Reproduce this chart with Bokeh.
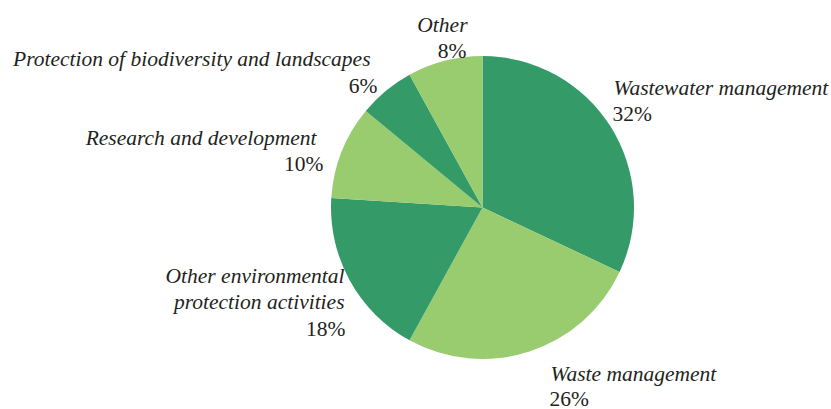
import math
from bokeh.plotting import figure
from bokeh.embed import file_html
from bokeh.resources import INLINE
from bokeh.models import ColumnDataSource
from bokeh.core.properties import value

# ---- data ----
categories = ["Wastewater management", "Waste management",
              "Other environmental protection activities",
              "Research and development",
              "Protection of biodiversity and landscapes", "Other"]
shares = [32, 26, 18, 10, 6, 8]
colors = ["#349b68", "#99cb6f", "#349b68", "#99cb6f", "#349b68", "#99cb6f"]

# label lines (name lines)
label_lines = [["Wastewater management"], ["Waste management"],
               ["Other environmental", "protection activities"],
               ["Research and development"],
               ["Protection of biodiversity and landscapes"], ["Other"]]

# ---- layout (page px from top-left) ----
W, H = 831, 409
CX, CY, R = 482, 207, 151.5
FS = 21.5
LH = 26.5
FONT = value("Liberation Serif")
# name anchor x, first baseline y, alignment ; percent anchor x, baseline y
name_pos = [(613, 87, "left"), (550, 373, "left"), (344, 275, "right"),
            (316, 137, "right"), (370, 58, "right"), (467, 24, "right")]
pct_pos = [(612, 113), (549, 398), (345, 328), (323, 163), (377, 85), (466, 50)]

p = figure(width=W, height=H, x_range=(0, W), y_range=(0, H),
           output_backend="svg", toolbar_location=None,
           min_border=0, min_border_left=0, min_border_right=0,
           min_border_top=0, min_border_bottom=0)
p.axis.visible = False
p.grid.visible = False
p.outline_line_color = None
p.background_fill_color = "white"

total = sum(shares)
starts, ends = [], []
cum = 0
for s in shares:
    a0 = math.pi / 2 - 2 * math.pi * (cum + s) / total
    a1 = math.pi / 2 - 2 * math.pi * cum / total
    starts.append(a0)
    ends.append(a1)
    cum += s

src = ColumnDataSource(dict(x=[CX] * len(shares), y=[H - CY] * len(shares),
                            start=starts, end=ends, color=colors))
p.wedge(x="x", y="y", radius=R, start_angle="start", end_angle="end",
        fill_color="color", line_color=None, source=src)

nx, ny, ntxt, nal = [], [], [], []
px, pyy, ptxt, pal = [], [], [], []
for lines, s, (ax, ay, al), (qx, qy) in zip(label_lines, shares, name_pos, pct_pos):
    for i, ln in enumerate(lines):
        nx.append(ax); ny.append(H - (ay + i * LH)); ntxt.append(ln); nal.append(al)
    px.append(qx); pyy.append(H - qy); ptxt.append(f"{s}%"); pal.append(al)

p.text(x=nx, y=ny, text=ntxt, text_align=nal, text_baseline="alphabetic",
       text_font=FONT, text_font_style="italic",
       text_font_size=f"{FS}px", text_color="#231f20")
p.text(x=px, y=pyy, text=ptxt, text_align=pal, text_baseline="alphabetic",
       text_font=FONT, text_font_style="normal",
       text_font_size=f"{FS}px", text_color="#231f20")

open("out.html", "w").write(file_html(p, INLINE))
